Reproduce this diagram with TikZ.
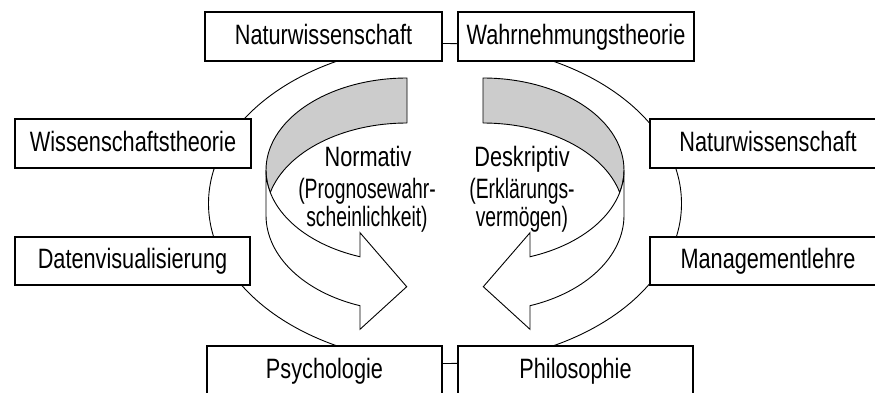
\documentclass[tikz,border=0pt]{standalone}
\usepackage{fontspec}
\setmainfont{Liberation Sans}
\newfontfamily\boxfont{Liberation Sans}[FakeStretch=0.775]
\newfontfamily\notefont{Liberation Sans}[FakeStretch=0.69]
\definecolor{bandgrey}{RGB}{204,204,204}

% one curved 3D arrow (left version); mirrored for the right side
\newcommand\curvedarrow{%
  % inner back face of the ribbon
  \filldraw[band] (407,-78)
    arc[start angle=90, end angle=194.16, x radius=141, y radius=92]
    arc[start angle=165.84, end angle=90, x radius=141, y radius=92]
    -- cycle;
  % front face with arrow head
  \filldraw[face] (266,-170)
    arc[start angle=180, end angle=250.53, x radius=141, y radius=92]
    -- (360,-232.7) -- (406.7,-286.7) -- (360,-329.3) -- (360,-305.7)
    arc[start angle=250.53, end angle=180, x radius=141, y radius=96]
    -- cycle;
}

\begin{document}
\begin{tikzpicture}[x=1pt,y=1pt,
  field/.style={draw=black, line width=1.1pt, fill=white,
    minimum width=236pt, minimum height=49pt, inner sep=0pt,
    text height=20pt, text depth=5pt,
    font=\boxfont\fontsize{28}{30}\selectfont},
  band/.style={draw=black, line width=0.9pt, fill=bandgrey, line join=round},
  face/.style={draw=black, line width=0.9pt, fill=white, line join=miter},
  title/.style={anchor=base, inner sep=0pt, font=\boxfont\fontsize{28}{30}\selectfont},
  note/.style={anchor=base, inner sep=0pt, font=\notefont\fontsize{28}{30}\selectfont}]

\clip (0,0) rectangle (875,-392);
\fill[white] (0,0) rectangle (875,-392);

% the surrounding ring
\draw[line width=0.9pt] (445,-203.5) ellipse [x radius=236.5, y radius=160];

% the two curved arrows
\curvedarrow
\begin{scope}[xshift=890pt, xscale=-1]
  \curvedarrow
\end{scope}

% centre labels
\node[title] (normativ) at (368,-166.7) {Normativ};
\node[note]  (prognose) at (367,-198.3) {(Prognosewahr-};
\node[note]  (schein)   at (367,-226)   {scheinlichkeit)};
\node[title] (deskriptiv) at (522,-166.7) {Deskriptiv};
\node[note]  (erkl)       at (522,-198.3) {(Erklärungs-};
\node[note]  (verm)       at (522,-226)   {vermögen)};

% disciplines around the ring
\node[field, minimum width=237pt] (natL)  at (323.5,-36.5) {Naturwissenschaft};
\node[field] (wahr)  at (576,-36.5)   {Wahrnehmungstheorie};
\node[field] (wiss)  at (133,-143.5)  {Wissenschaftstheorie};
\node[field, minimum width=235pt, minimum height=48pt] (daten) at (132.5,-261) {Datenvisualisierung};
\node[field] (natR)  at (768,-143.5)  {Naturwissenschaft};
\node[field, minimum height=48pt] (mgmt)  at (768,-261) {Managementlehre};
\node[field, minimum width=235pt] (psych) at (324.5,-370.5) {Psychologie};
\node[field, minimum width=235pt] (philo) at (575.5,-370.5) {Philosophie};
\end{tikzpicture}
\end{document}
